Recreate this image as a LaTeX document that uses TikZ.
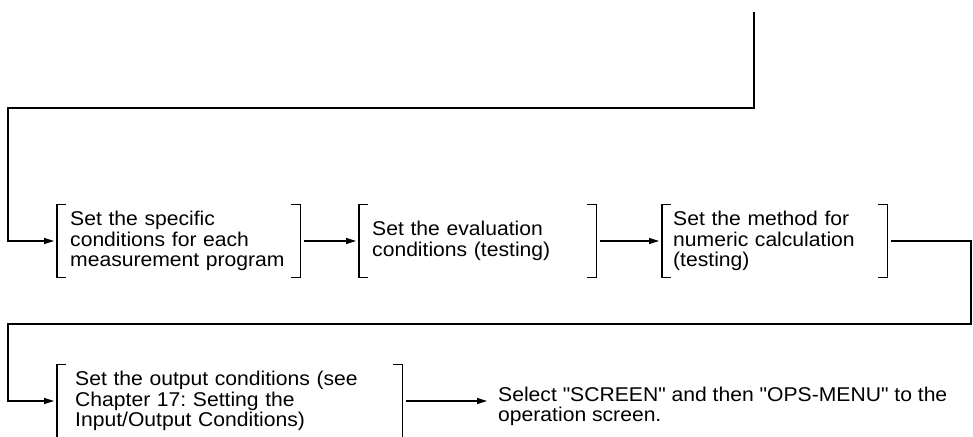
\documentclass[tikz,border=0pt]{standalone}
\usepackage{fontspec}
\setmainfont{Liberation Sans}[FakeStretch=1.06,Ligatures=TeXOff]
\frenchspacing
\usepackage{tikz}
\usetikzlibrary{arrows.meta,positioning}
\tikzset{
  stepbox/.style ={anchor=west,inner xsep=13bp,inner ysep=0pt,minimum height=72bp,
                   align=left,font=\fontsize{20}{20.5}\selectfont},
  note/.style    ={anchor=base west,inner xsep=8bp,inner ysep=0pt,align=left,
                   font=\fontsize{20}{19.5}\selectfont},
  flow/.style    ={line width=1.1bp,-{Triangle[length=10bp,width=6bp]},
                   shorten <=4bp,shorten >=3bp},
  brk/.style     ={line width=1.1bp},
}

\begin{document}
\begin{tikzpicture}[x=1bp,y=-1bp]
  \useasboundingbox (0,0) rectangle (973,437);
  % the steps
  \node[stepbox,text width=217bp] (b1) at (57,241)
     {Set the specific\\conditions for each\\measurement program};
  \node[stepbox,text width=211bp] (b2) at (359,241)
     {Set the evaluation\\conditions (testing)};
  \node[stepbox,inner xsep=11bp,text width=203bp] (b3) at (662,241)
     {Set the method for\\numeric calculation\\(testing)};
  \node[stepbox,inner xsep=18bp,text width=309bp] (b4) at (57,401)
     {Set the output conditions (see\\Chapter 17: Setting the\\Input/Output Conditions)};
  \node[note] (sel) at (490,421)
     {Select "SCREEN" and then "OPS-MENU" to the\\operation screen.};
  % brackets round the steps
  \foreach \n in {b1,b2,b3,b4}{
     \draw[brk] ([xshift=9bp]\n.north west) -- (\n.north west) -- (\n.south west)
                -- ([xshift=9bp]\n.south west);
     \draw[brk] ([xshift=-9bp]\n.north east) -- (\n.north east) -- (\n.south east)
                -- ([xshift=-9bp]\n.south east);
  }
  % connectors
  \coordinate (start) at (754,12);
  \coordinate (lt) at (8,108);
  \coordinate (rt) at (971,324);
  \coordinate (lb) at (8,324);
  \draw[flow,shorten <=0pt] (start) |- (lt) |- (b1.west);
  \draw[flow] (b1) -- (b2);
  \draw[flow] (b2) -- (b3);
  \draw[flow] (b3.east) -| (rt) -- (lb) |- (b4.west);
  \draw[flow] (b4.east) -- (b4.east -| sel.west);
\end{tikzpicture}
\end{document}
